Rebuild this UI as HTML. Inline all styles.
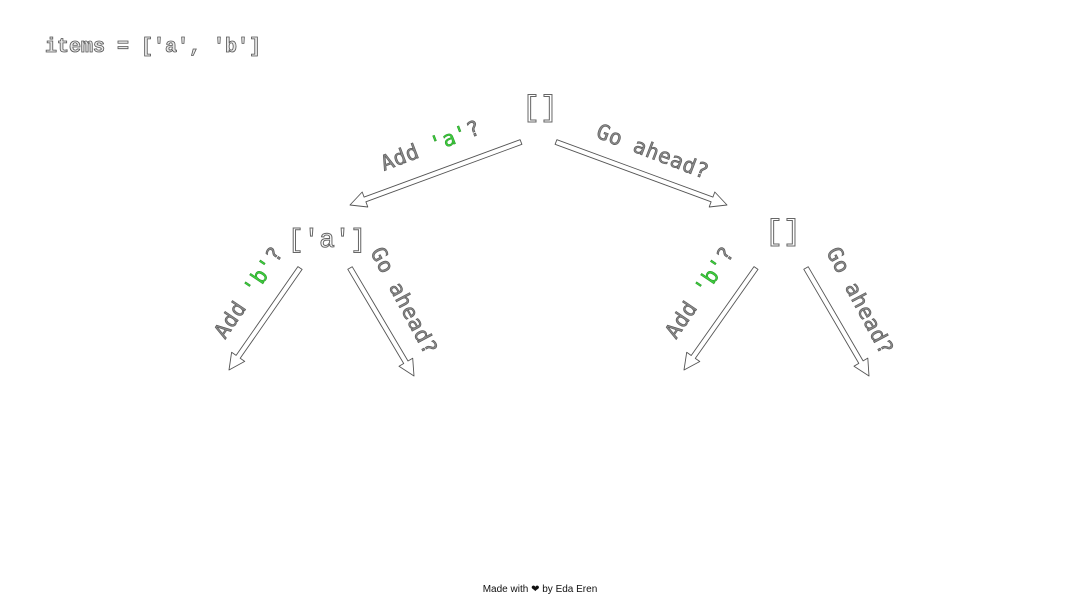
<!DOCTYPE html>
<html><head><meta charset="utf-8">
<style>
html,body{margin:0;padding:0;background:#fff;}
body{width:1080px;height:608px;overflow:hidden;}
svg{display:block;}
.mono{font-family:"Liberation Mono","DejaVu Sans Mono",monospace;}
.lbl{font-family:"DejaVu Sans Mono","Liberation Mono",monospace;font-size:21px;letter-spacing:0.5px;fill:#8a8a8a;stroke:#555;stroke-width:0.6;}
.grn{fill:#3ecf3e;stroke:#2a9a2a;}
.node{font-family:"Liberation Mono",monospace;font-size:30px;fill:#fff;stroke:#666;stroke-width:1;}
</style></head>
<body>
<svg id="diagram" width="1080" height="608" viewBox="0 0 1080 608">
  <text x="45" y="52" class="mono" font-size="20" font-weight="bold" fill="#e8e8e8" stroke="#555" stroke-width="0.8">items = ['a', 'b']</text>

  <text class="node" x="522" y="116">[]</text>
  <text class="node" x="288" y="247" font-size="26" style="font-size:26px">['a']</text>
  <text class="node" x="765" y="240">[]</text>

  <g id="arrows"></g>

  <text class="lbl" transform="translate(384,171) rotate(-21)">Add <tspan class="grn">'a'</tspan>?</text>
  <text class="lbl" transform="translate(595,137) rotate(21)">Go ahead?</text>

  <text class="lbl" transform="translate(225,340) rotate(-56)">Add <tspan class="grn">'b'</tspan>?</text>
  <text class="lbl" transform="translate(370,252) rotate(62)">Go ahead?</text>

  <text class="lbl" transform="translate(676,340) rotate(-56)">Add <tspan class="grn">'b'</tspan>?</text>
  <text class="lbl" transform="translate(826,252) rotate(62)">Go ahead?</text>

  <text x="540" y="592" text-anchor="middle" font-family="Liberation Sans,sans-serif" font-size="10" fill="#111">Made with ❤ by Eda Eren</text>
</svg>
<script>
const arrowStartX=[521,556,300,350,756,806];
const arrowStartY=[142,142,268,268,268,268];
const arrowEndX=[350,727,229,414,684,869];
const arrowEndY=[205,205,370,376,370,376];
const names=['arrow-root-add','arrow-root-skip','arrow-left-add','arrow-left-skip','arrow-right-add','arrow-right-skip'];
const g=document.getElementById('arrows');
for(let i=0;i<arrowStartX.length;i++){
  const x1=arrowStartX[i],y1=arrowStartY[i],x2=arrowEndX[i],y2=arrowEndY[i];
  const dx=x2-x1,dy=y2-y1,L=Math.hypot(dx,dy),ux=dx/L,uy=dy/L,px=-uy,py=ux;
  const w=2.5,hw=8,hl=16;
  const bx=x2-ux*hl,by=y2-uy*hl;
  const pts=[
    [x1+px*w,y1+py*w],[bx+px*w,by+py*w],[bx+px*hw,by+py*hw],[x2,y2],
    [bx-px*hw,by-py*hw],[bx-px*w,by-py*w],[x1-px*w,y1-py*w]
  ].map(p=>p[0].toFixed(1)+','+p[1].toFixed(1)).join(' ');
  const el=document.createElementNS('http://www.w3.org/2000/svg','polygon');
  el.setAttribute('points',pts);
  el.setAttribute('fill','#fff');
  el.setAttribute('stroke','#555');
  el.setAttribute('stroke-width','0.9');
  el.setAttribute('stroke-linejoin','round');
  
  
  g.appendChild(el);
}
</script>
</body></html>
